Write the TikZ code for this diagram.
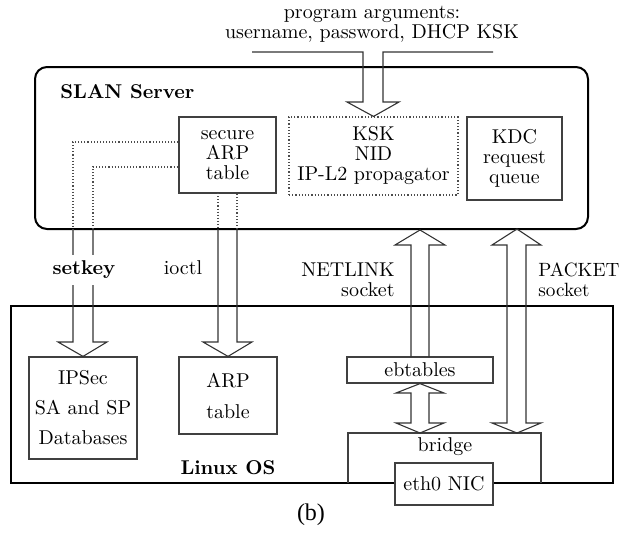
\documentclass[tikz,border=0pt]{standalone}
\usepackage{fontspec}
\newfontfamily\capfont{Liberation Serif}
\begin{document}
\begin{tikzpicture}[x=0.5pt,y=-0.5pt,
  every node/.style={font=\fontsize{10}{10}\selectfont, inner sep=0pt},
  bf/.style={font=\fontsize{10}{10}\selectfont\bfseries},
  box/.style={draw=black!75, line width=0.6pt, fill=white, align=center},
  dotbox/.style={draw=black!70, line width=0.6pt, densely dotted, fill=white, align=center},
  frame/.style={draw=black, line width=1pt},
  arr/.style={draw=black!80, line width=0.55pt},
  dots/.style={draw=black!70, line width=0.55pt, densely dotted},
 ]
\useasboundingbox (0,0) rectangle (623,537);
% outer frames
\node[frame, rounded corners=6pt, minimum width=276.5pt, minimum height=81pt] (slan) at (311.5,148) {};
\node[frame, minimum width=301pt, minimum height=88.5pt] (linux) at (312,394.5) {};
% server boxes
\node[box, minimum width=48.5pt, minimum height=38pt] (sarp) at (227.5,155) {secure\\ARP\\table};
\node[dotbox, minimum width=84.5pt, minimum height=39pt] (ksk) at (373.5,156) {KSK\\NID\\IP-L2 propagator};
\node[box, minimum width=47.5pt, minimum height=41.5pt] (kdc) at (514.5,158.5) {KDC\\request\\queue};
% kernel boxes
\node[box, minimum width=54pt, minimum height=51pt, font=\fontsize{10}{15}\selectfont] (ipsec) at (83,408) {IPSec\\SA and SP\\Databases};
\node[box, minimum width=49pt, minimum height=38.5pt, font=\fontsize{10}{15.5}\selectfont] (arp) at (228,395.5) {ARP\\table};
\node[box, minimum width=73pt, minimum height=13pt] (ebt) at (420,370) {ebtables};
% bridge
\draw[draw=black!75, line width=0.6pt] (348,483) -- (348,433) -- (541,433) -- (541,483);
\coordinate (br) at (420,433);
\node (bridgelbl) at (445,447) {bridge};
\node[box, minimum width=49pt, minimum height=21pt] (eth) at (444,484) {eth0 NIC};
% program arguments
\node[align=center] (args) at (372,24) {program arguments:\\username, password, DHCP KSK};
\draw[arr] (252,52) -- (363,52) -- (363,102) -- (347,102) -- (ksk.north) -- (399,102) -- (383,102) -- (383,52) -- (493,52);
% setkey
\draw[dots] (sarp.west |- 0,142) -- (73,142) -- (73,229);
\draw[arr] (73,229) -- (73,342) -- (58,342) -- (ipsec.north) -- (107,342) -- (93,342) -- (93,229);
\draw[dots] (93,229) -- (93,167) -- (sarp.west |- 0,167);
% ioctl
\draw[dots] (218,193) -- (218,229);
\draw[arr] (218,229) -- (218,342) -- (203,342) -- (arp.north) -- (252,342) -- (237,342) -- (237,229);
\draw[dots] (237,229) -- (237,193);
% netlink
\draw[arr] (411,357) -- (411,245) -- (395,245) -- (ebt.north |- slan.south) -- (445,245) -- (429,245) -- (429,357);
% ebtables <-> bridge
\draw[arr] (ebt.south) -- (396,393) -- (411,393) -- (411,423) -- (396,423) -- (br) -- (444,423) -- (429,423) -- (429,393) -- (444,393) -- cycle;
% packet
\draw[arr] (517,229) -- (492,245) -- (507,245) -- (507,423) -- (492,423) -- (517,433) -- (541,423) -- (526,423) -- (526,245) -- (541,245) -- cycle;
% labels
\node[bf, fill=white, inner ysep=3pt, inner xsep=1pt] (setkey) at (84,270) {setkey};
\node (ioctl) at (183,268) {ioctl};
\node[anchor=east, align=right] (netlink) at (395,280) {NETLINK\\socket};
\node[anchor=west, align=left, font=\fontsize{9.6}{10}\selectfont] (packet) at (538,280) {PACKET\\socket};
\node[bf] (linuxlbl) at (228,468) {Linux OS};
\node[bf, anchor=west] (slanlbl) at (60,92) {SLAN Server};
\node[font=\capfont\fontsize{12}{12}\selectfont] (cap) at (311,515) {(b)};
\end{tikzpicture}
\end{document}
